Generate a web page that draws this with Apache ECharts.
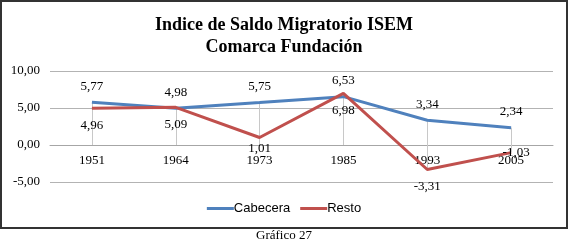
<style>body { margin: 0; }</style>
<div id="main" style="width:568px; height:242px;"></div>

<script src="https://cdn.jsdelivr.net/npm/echarts@6/dist/echarts.min.js"></script>
<script>
var years = ['1951', '1964', '1973', '1985', '1993', '2005'];
var cabecera = [5.77, 4.98, 5.75, 6.53, 3.34, 2.34];
var resto = [4.96, 5.09, 1.01, 6.98, -3.31, -1.03];
var yTicks = [-5, 0, 5, 10];

var myChart = echarts.init(main);
var serif = '"Liberation Serif", "Times New Roman", serif';
var blue = '#4f81bd', red = '#c0504d';
var gridTop = 71, gridBottom = 60;
var plotH = 242 - gridTop - gridBottom;
var yMin = yTicks[0], yMax = yTicks[yTicks.length - 1];

function fmt(v) {
	return v.toFixed(2).replace('.', ',');
}

// drop lines: from the top point of each year down to the axis (or the lowest point)
var drops = years.map((y, i) => {
	var hi = Math.max(cabecera[i], resto[i]);
	var lo = Math.min(0, cabecera[i], resto[i]);
	return [{coord: [i, hi]}, {coord: [i, lo]}];
});

var labelBase = {show: true, fontFamily: serif, fontSize: 13, color: '#000', formatter: p => fmt(p.value)};

myChart.setOption({
	animation: false,
	title: {
		text: 'Indice de Saldo Migratorio ISEM\nComarca Fundación',
		left: 'center',
		top: 9,
		textStyle: {fontFamily: serif, fontSize: 18, fontWeight: 'bold', color: '#000', lineHeight: 22}
	},
	legend: {
		top: 197,
		left: 'center',
		itemWidth: 27,
		itemHeight: 3,
		itemGap: 10,
		icon: 'rect',
		textStyle: {fontFamily: '"Liberation Sans", Arial, sans-serif', fontSize: 13, color: '#000', padding: [0, 0, 0, -5]},
		data: [
			{name: 'Cabecera', itemStyle: {color: blue}},
			{name: 'Resto', itemStyle: {color: red}}
		]
	},
	grid: {left: 50, right: 15, top: gridTop, bottom: gridBottom},
	xAxis: {
		type: 'category',
		data: years,
		// put the category axis on the zero line
		offset: -(0 - yMin) / (yMax - yMin) * plotH,
		axisTick: {show: false},
		axisLine: {lineStyle: {color: '#a6a6a6'}},
		axisLabel: {fontFamily: serif, fontSize: 13, color: '#000', margin: 9}
	},
	yAxis: {
		type: 'value',
		min: yMin,
		max: yMax,
		interval: 5,
		axisLabel: {fontFamily: serif, fontSize: 13, color: '#000', margin: 10, formatter: fmt},
		splitLine: {lineStyle: {color: '#b3b3b3'}}
	},
	series: [
		{
			name: 'Cabecera',
			type: 'line',
			data: cabecera,
			symbol: 'circle',
			symbolSize: 1,
			itemStyle: {color: 'rgba(0,0,0,0)'},
			lineStyle: {width: 3, color: blue},
			z: 3,
			label: Object.assign({position: 'top', distance: 9}, labelBase),
			markLine: {
				silent: true,
				symbol: 'none',
				label: {show: false},
				lineStyle: {color: '#c8c8c8', width: 1, type: 'solid'},
				data: drops,
				z: 1
			}
		},
		{
			name: 'Resto',
			type: 'line',
			data: resto.map((v, i) => {
				if (i === 2) return {value: v, label: {distance: 4}};
				if (i === 5) return {value: v, label: {position: 'right', distance: -9}};
				return v;
			}),
			symbol: 'circle',
			symbolSize: 1,
			itemStyle: {color: 'rgba(0,0,0,0)'},
			lineStyle: {width: 3, color: red},
			z: 4,
			label: Object.assign({position: 'bottom', distance: 10}, labelBase)
		}
	],
	graphic: [
		{type: 'rect', shape: {x: 1, y: 1, width: 566, height: 227}, style: {fill: 'none', stroke: '#333', lineWidth: 2}, silent: true},
		{type: 'text', left: 'center', top: 229, style: {text: 'Gráfico 27', font: '13px ' + serif, fill: '#000'}}
	]
});
</script>
